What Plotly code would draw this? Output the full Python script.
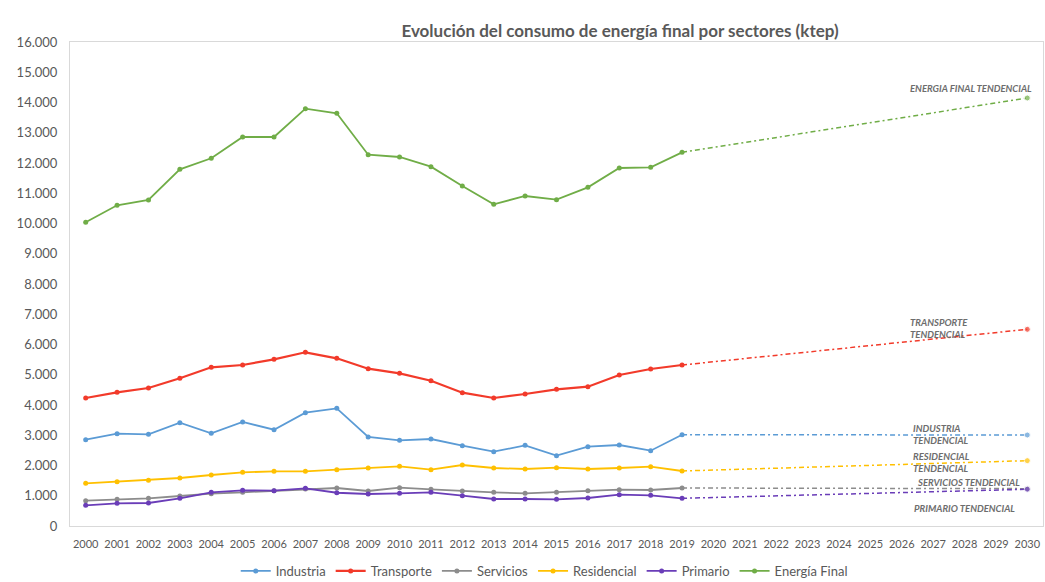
import plotly.graph_objects as go

years = list(range(2000, 2020))
all_years = list(range(2000, 2031))

industria = [2853, 3051, 3030, 3416, 3063, 3438, 3184, 3746, 3890, 2942,
             2832, 2876, 2655, 2457, 2666, 2325, 2622, 2678, 2490, 3019]
transporte = [4231, 4419, 4562, 4882, 5246, 5322, 5510, 5742, 5543, 5201,
              5047, 4804, 4407, 4231, 4364, 4518, 4606, 4992, 5190, 5322]
servicios = [838, 882, 915, 992, 1069, 1113, 1168, 1223, 1256, 1157,
             1267, 1212, 1157, 1113, 1080, 1113, 1168, 1201, 1190, 1256]
residencial = [1411, 1466, 1510, 1587, 1686, 1774, 1807, 1807, 1862, 1917,
               1973, 1862, 2017, 1917, 1884, 1928, 1884, 1917, 1961, 1818]
primario = [683, 750, 760, 915, 1113, 1179, 1168, 1245, 1100, 1058,
            1080, 1113, 1003, 893, 893, 882, 926, 1036, 1014, 915]
energia_final = [10039, 10601, 10777, 11791, 12155, 12860, 12860, 13796, 13643, 12275,
                 12198, 11878, 11240, 10634, 10909, 10788, 11196, 11835, 11857, 12353]

trend_years = [2019, 2030]
trend_2030 = {"Industria": 3008, "Transporte": 6502, "Servicios": 1235,
              "Residencial": 2160, "Primario": 1215, "Energía Final": 14149}

trend_labels = {
    "Energía Final": "ENERGIA FINAL TENDENCIAL",
    "Transporte": "TRANSPORTE<br>TENDENCIAL",
    "Industria": "INDUSTRIA<br>TENDENCIAL",
    "Residencial": "RESIDENCIAL<br>TENDENCIAL",
    "Servicios": "SERVICIOS TENDENCIAL",
    "Primario": "PRIMARIO TENDENCIAL",
}

series = [
    ("Industria", industria, "#5B9BD5"),
    ("Transporte", transporte, "#F23A2A"),
    ("Servicios", servicios, "#8C8C8C"),
    ("Residencial", residencial, "#FFC000"),
    ("Primario", primario, "#6A3DB8"),
    ("Energía Final", energia_final, "#70AD47"),
]

y_ticks = list(range(0, 16001, 1000))
y_tick_text = ["0"] + [f"{v // 1000}.000" for v in y_ticks[1:]]

W, H = 1045, 582
T, B = 42, 56
plot_h = H - T - B

fig = go.Figure()
for name, vals, color in series:
    fig.add_trace(go.Scatter(
        x=years, y=vals, name=name, mode="lines+markers",
        line=dict(color=color, width=2.2 if name == "Transporte" else 1.8),
        marker=dict(color=color, size=5),
    ))
for name, vals, color in series:
    fig.add_trace(go.Scatter(
        x=trend_years, y=[vals[-1], trend_2030[name]], mode="lines+markers",
        line=dict(color=color, width=1.5, dash="5px,3px,2px,3px"),
        marker=dict(color=color, size=[0, 6]),
        showlegend=False, hoverinfo="skip",
    ))

ann_font = dict(family="Lato, sans-serif", size=9.5, color="#6d6d6d")
ann_pos = {
    "Energía Final": (2030.2, 88, "right"),
    "Transporte": (2026.2, 328, "left"),
    "Industria": (2026.31, 434, "left"),
    "Residencial": (2026.28, 462, "left"),
    "Servicios": (2026.41, 482, "left"),
    "Primario": (2026.33, 508, "left"),
}
for name, (xv, ypix, anchor) in ann_pos.items():
    fig.add_annotation(
        x=xv, xref="x", y=1 - (ypix - T) / plot_h, yref="paper",
        text="<i><b>" + trend_labels[name] + "</b></i>",
        showarrow=False, xanchor=anchor, yanchor="middle", align="left",
        font=ann_font,
    )

fig.update_layout(
    width=W, height=H,
    margin=dict(l=70, r=2, t=T, b=B, autoexpand=False),
    paper_bgcolor="white", plot_bgcolor="white",
    font=dict(family="Lato, sans-serif", color="#595959"),
    title=dict(text="<b>Evolución del consumo de energía final por sectores (ktep)</b>",
               x=620 / W, xanchor="center", y=1 - 31 / H, yanchor="middle",
               font=dict(size=17, color="#595959")),
    legend=dict(orientation="h", x=178 / W, xanchor="left", y=-(571 - (H - B)) / plot_h,
                yanchor="middle", font=dict(size=13, color="#595959"), itemwidth=30,
                tracegroupgap=0),
    showlegend=True,
)
fig.update_xaxes(
    range=[1999.5, 2030.5], tickvals=all_years, ticktext=[str(y) for y in all_years],
    tickfont=dict(size=11, color="#595959"), showgrid=False, ticklabelstandoff=8,
    showline=True, linecolor="#d9d9d9", mirror=True, ticks="", zeroline=False,
    automargin=False,
)
fig.update_yaxes(
    range=[0, 16000], tickvals=y_ticks, ticktext=y_tick_text,
    tickfont=dict(size=13, color="#595959"), showgrid=False, ticklabelstandoff=9,
    showline=True, linecolor="#d9d9d9", mirror=True, ticks="", zeroline=False,
    automargin=False,
)

fig.write_html("out.html", config={"displayModeBar": False},
               post_script="document.body.style.margin='0';document.body.style.overflow='hidden';")
